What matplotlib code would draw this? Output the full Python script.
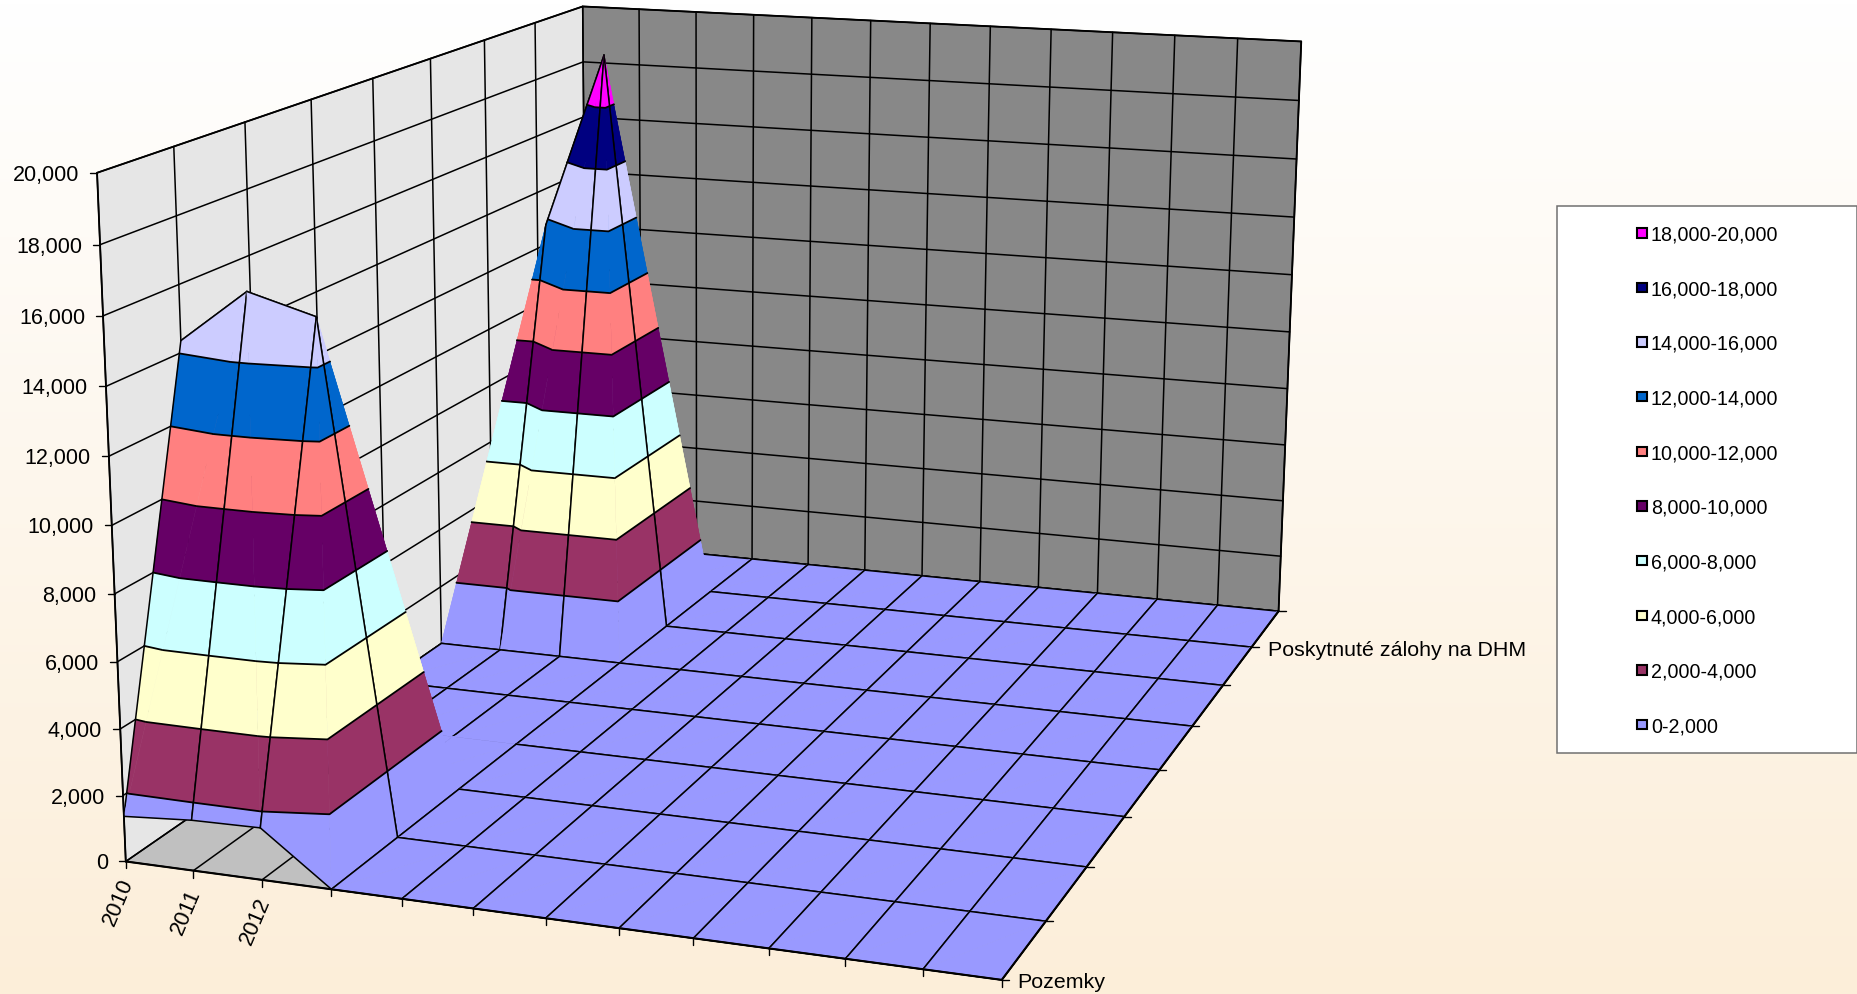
import numpy as np
import matplotlib
matplotlib.use("Agg")
import matplotlib.pyplot as plt
from matplotlib.patches import Polygon, Rectangle

plt.rcParams['font.family'] = ['Liberation Sans', 'DejaVu Sans']

# ---------- data ----------
years = ['2010', '2011', '2012', '', '', '', '', '', '', '', '', '', '']
series_names = ['Pozemky', '', '', '', '', '', '', 'Poskytnuté zálohy na DHM', '']
row0 = [1370, 1520, 1560, 0, 0, 0, 0, 0, 0, 0, 0, 0, 0]
row1 = [14350, 15950, 15375, 0, 0, 0, 0, 0, 0, 0, 0, 0, 0]
row2 = [0] * 13
row3 = [0] * 13
row4 = [0] * 13
row5 = [0] * 13
row6 = [0, 13800, 19700, 0, 0, 0, 0, 0, 0, 0, 0, 0, 0]
row7 = [0] * 13
row8 = [0] * 13
values = np.array([row0, row1, row2, row3, row4, row5, row6, row7, row8], float)
z_ticks = list(range(0, 20001, 2000))
band_colors = ['#9999FF', '#993366', '#FFFFCC', '#CCFFFF', '#660066',
               '#FF8080', '#0066CC', '#CCCCFF', '#000080', '#FF00FF']
band_labels = ['0-2,000', '2,000-4,000', '4,000-6,000', '6,000-8,000', '8,000-10,000',
               '10,000-12,000', '12,000-14,000', '14,000-16,000', '16,000-18,000', '18,000-20,000']

# ---------- camera (category index, series index, value) -> pixel ----------
W, H = 1858, 994
cam_world = [(0,0,0),(0,0,20000),(1,0,0),(2,0,0),(3,0,0),(5,0,0),(12,0,0),(12,1,0),(12,2,0),(12,3,0),
             (12,4,0),(12,5,0),(12,6,0),(12,7,0),(12,8,0),(12,8,20000),(0,8,20000),(0,1,20000),(3,1,0),
             (1,5,0),(2,5,0),(3,6,0),(3,8,0),(3,7,0),(0,5,0),(6,8,20000),(0,0,16000)]
cam_px = [(126,862),(97,173),(193,870),(262,880),(331,889),(473,908),(1000,979),(1047,921),(1088,867),(1126,817),
          (1159,770),(1193,726),(1223,686),(1251,647),(1277,612),(1301,41),(583,6),(174,147),(397,837),
          (499,650),(559,656),(666,626),(752,559),(713,592),(442,643),(930,23),(103,317)]
A, b = [], []
for (x, s, z), (u, v) in zip(cam_world, cam_px):
    z = z / 1000
    A.append([x, s, z, 1, 0, 0, 0, 0, -u*x, -u*s, -u*z]); b.append(u)
    A.append([0, 0, 0, 0, x, s, z, 1, -v*x, -v*s, -v*z]); b.append(v)
p = np.linalg.lstsq(np.array(A, float), np.array(b, float), rcond=None)[0]
P = np.array([p[:4], p[4:8], [p[8], p[9], p[10], 1.0]])

def proj(x, s, z):
    h = P @ np.array([x, s, z / 1000, 1.0])
    return h[0] / h[2], h[1] / h[2]

fig = plt.figure(figsize=(W / 100, H / 100), dpi=100)
ax = fig.add_axes([0, 0, 1, 1])
ax.set_xlim(0, W); ax.set_ylim(H, 0); ax.axis('off')

# background gradient
grad = np.linspace(0, 1, 256)[:, None, None]
top = np.array([255, 255, 255]) / 255; bot = np.array([252, 238, 217]) / 255
ax.imshow(top + (bot - top) * grad, extent=[0, W, H, 0], aspect='auto', zorder=0)

nx, ns = values.shape[1] - 1, values.shape[0] - 1
zmax = z_ticks[-1]
order = [2]
def nz():
    order[0] += 0.001
    return order[0]

LW = 1.1
def line(pts, lw=LW, color='black'):
    xy = np.array(pts)
    ax.plot(xy[:, 0], xy[:, 1], color=color, lw=lw, zorder=nz(), solid_capstyle='round')

def poly(pts, color, edge=None):
    ax.add_patch(Polygon(pts, closed=True, facecolor=color, edgecolor=edge or color, lw=0.4, zorder=nz()))

# walls and floor
poly([proj(0,0,0), proj(0,ns,0), proj(0,ns,zmax), proj(0,0,zmax)], '#E6E6E6')
poly([proj(0,ns,0), proj(nx,ns,0), proj(nx,ns,zmax), proj(0,ns,zmax)], '#888888')
poly([proj(0,0,0), proj(nx,0,0), proj(nx,ns,0), proj(0,ns,0)], '#C0C0C0')
for z in z_ticks:
    line([proj(0,0,z), proj(0,ns,z), proj(nx,ns,z)])
for s in range(ns + 1):
    line([proj(0,s,0), proj(0,s,zmax)])
    line([proj(0,s,0), proj(nx,s,0)])
for x in range(nx + 1):
    line([proj(x,ns,0), proj(x,ns,zmax)])
    line([proj(x,0,0), proj(x,ns,0)])

def clip(tri, lo, hi):
    out = tri
    for lim, sign in ((lo, 1), (hi, -1)):
        new = []
        for i in range(len(out)):
            a, c = out[i], out[(i + 1) % len(out)]
            da, dc = sign * (a[2] - lim), sign * (c[2] - lim)
            if da >= 0:
                new.append(a)
            if (da > 0 and dc < 0) or (da < 0 and dc > 0):
                t = da / (da - dc)
                new.append(tuple(a[k] + t * (c[k] - a[k]) for k in range(3)))
        out = new
        if not out:
            break
    return out

def draw_tri(tri):
    for i, color in enumerate(band_colors):
        lo, hi = z_ticks[i], z_ticks[i + 1]
        if max(v[2] for v in tri) < lo or (min(v[2] for v in tri) >= hi):
            continue
        pg = clip(tri, lo, hi)
        if len(pg) >= 3:
            poly([proj(*v) for v in pg], color)
    for lev in z_ticks[1:-1]:
        cross = []
        for i in range(3):
            a, c = tri[i], tri[(i + 1) % 3]
            if (a[2] - lev) * (c[2] - lev) < 0:
                t = (lev - a[2]) / (c[2] - a[2])
                cross.append(proj(a[0] + t * (c[0] - a[0]), a[1] + t * (c[1] - a[1]), lev))
        if len(cross) == 2:
            line(cross, lw=1.3)

# mesh segments the original chart leaves out behind the front ridge
skipped = {((2, 3), (3, 3)), ((1, 3), (2, 3)), ((2, 2), (2, 3))}

def edge(p, q):
    key = ((p[0], p[1]), (q[0], q[1]))
    if key not in skipped and key[::-1] not in skipped:
        line([proj(*p), proj(*q)])

# surface, back to front
for s in range(ns - 1, -1, -1):
    for x in range(nx):
        a = (x, s, values[s, x]); b_ = (x + 1, s, values[s, x + 1])
        c = (x, s + 1, values[s + 1, x]); d = (x + 1, s + 1, values[s + 1, x + 1])
        if abs(a[2] - d[2]) >= abs(b_[2] - c[2]):
            draw_tri((a, c, d)); edge(a, c); edge(c, d)
            draw_tri((a, b_, d)); edge(a, b_); edge(b_, d)
        else:
            draw_tri((a, b_, c)); edge(a, b_); edge(a, c)
            draw_tri((b_, d, c)); edge(b_, d); edge(c, d)

# axis edges, ticks and labels
line([proj(0,0,0), proj(nx,0,0), proj(nx,ns,0)], lw=1.5)
line([proj(0,0,0), proj(0,0,zmax), proj(0,ns,zmax), proj(nx,ns,zmax), proj(nx,ns,0)], lw=1.3)
fs_axis = 15.5
for z in z_ticks:
    u, v = proj(0, 0, z)
    line([(u - 7, v), (u, v)], lw=1.0)
    ax.text(u - 18, v, f'{z:,}', ha='right', va='center_baseline', fontsize=fs_axis, color='black', zorder=50)
for x, name in enumerate(years):
    u, v = proj(x, 0, 0)
    line([(u, v), (u, v + 7)], lw=1.0)
    if name:
        ax.text(u - 7, v + 41, name, rotation=67, ha='center', va='center', fontsize=15.8, zorder=50)
for s, name in enumerate(series_names):
    u, v = proj(nx, s, 0)
    line([(u, v), (u + 7, v)], lw=1.0)
    if name:
        ax.text(u + 16, v + 1, name, ha='left', va='center_baseline', fontsize=15.4, zorder=50)

# legend
lx0, ly0, lx1, ly1 = 1557, 206, 1857, 753
ax.add_patch(Rectangle((lx0, ly0), lx1 - lx0, ly1 - ly0, facecolor='white', edgecolor='#707070', lw=1.1, zorder=60))
for i, (lab, col) in enumerate(zip(band_labels[::-1], band_colors[::-1])):
    y = 233 + 54.65 * i
    ax.add_patch(Rectangle((1637.5, y - 5), 9.5, 9.5, facecolor=col, edgecolor='black', lw=1.5, zorder=61))
    ax.text(1651, y, lab, ha='left', va='center_baseline', fontsize=14.15, zorder=61)

fig.savefig('out.png', dpi=100)
